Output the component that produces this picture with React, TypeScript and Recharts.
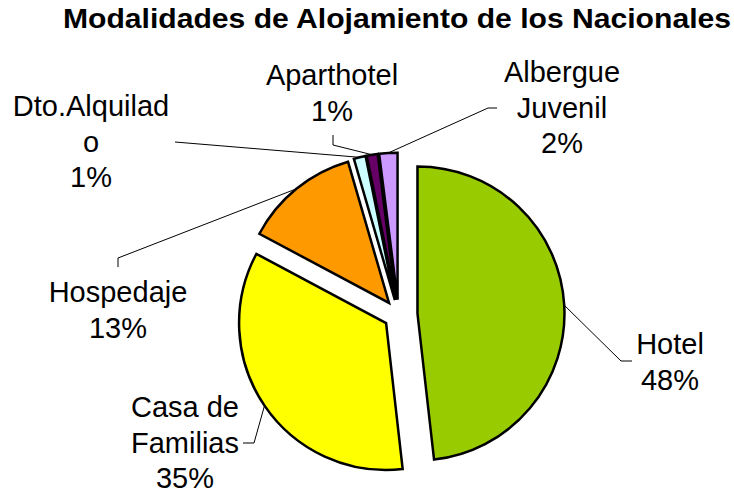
import { Cell, Pie, PieChart, Sector } from "recharts";

const categories = ["Hotel", "Casa de Familias", "Hospedaje", "Dto.Alquilado", "Aparthotel", "Albergue Juvenil"];
const shares = [48.2, 34.6, 12.7, 1.3, 1.2, 2.0];
const labelText = [["Hotel"], ["Casa de", "Familias"], ["Hospedaje"], ["Dto.Alquilad", "o"], ["Aparthotel"], ["Albergue", "Juvenil"]];

const data = categories.map((name, i) => ({ name, value: shares[i] }));

const COLORS = ["#99CC00", "#FFFF00", "#FF9900", "#CCFFFF", "#660066", "#CC99FF"];
const EXPLODE = [19, 15, 15, 15, 15, 15];
const FONT = "'Liberation Sans', Arial, sans-serif";
const LINE_H = 35.5;

// where each label block sits (centre x, first baseline) and the bend of its leader line
const LABEL_POS: { x: number; y: number; path: number[][] }[] = [
  { x: 670, y: 354, path: [[621, 361], [632, 361]] },
  { x: 185, y: 417, path: [[254, 443], [243, 443]] },
  { x: 118, y: 302, path: [[118, 258], [118, 267]] },
  { x: 91, y: 116, path: [[175, 142]] },
  { x: 332, y: 85, path: [[333, 145], [333, 135]] },
  { x: 562, y: 82, path: [[488, 108], [497, 108]] },
];

const RAD = Math.PI / 180;

function indexOfSlice(props: any) {
  if (typeof props.index === "number") return props.index;
  const n = props.name ?? props.payload?.name;
  return Math.max(0, categories.indexOf(n));
}

const explodedSector = (props: any) => {
  const i = indexOfSlice(props);
  const d = EXPLODE[i] ?? 0;
  const a = -props.midAngle * RAD;
  return <Sector {...props} cx={props.cx + d * Math.cos(a)} cy={props.cy + d * Math.sin(a)} />;
};

const renderLabel = (props: any) => {
  const { cx, cy, midAngle, outerRadius, percent, index } = props;
  const pos = LABEL_POS[index];
  const a = -midAngle * RAD;
  const r = outerRadius + EXPLODE[index];
  const sx = cx + r * Math.cos(a);
  const sy = cy + r * Math.sin(a);
  const pts = [[sx, sy], ...pos.path].map((p) => p.join(",")).join(" ");
  const lines = [...labelText[index], `${Math.round(percent * 100)}%`];
  return (
    <g key={`lbl-${index}`}>
      <polyline points={pts} fill="none" stroke="#000" strokeWidth={1} />
      <text x={pos.x} y={pos.y} textAnchor="middle" fontFamily={FONT} fontSize={29} fill="#000">
        {lines.map((t, k) => (
          <tspan key={k} x={pos.x} y={pos.y + k * LINE_H}>
            {t}
          </tspan>
        ))}
      </text>
    </g>
  );
};

export default function App() {
  return (
    <div style={{ position: "absolute", left: 0, top: 0, width: 734, height: 495, background: "#fff" }}>
      <svg width={734} height={40} style={{ position: "absolute", left: 0, top: 0 }}>
        <text
          x={397}
          y={28}
          textAnchor="middle"
          fontFamily={FONT}
          fontWeight="bold"
          fontSize={27}
          textLength={668}
          lengthAdjust="spacingAndGlyphs"
          fill="#000"
        >
          Modalidades de Alojamiento de los Nacionales
        </text>
      </svg>
      <PieChart width={734} height={495} margin={{ top: 0, right: 0, bottom: 0, left: 0 }}>
        <Pie
          data={data}
          dataKey="value"
          nameKey="name"
          cx={398.5}
          cy={314.6}
          outerRadius={147}
          startAngle={90}
          endAngle={-270}
          stroke="#000"
          strokeWidth={2.5}
          shape={explodedSector}
          label={renderLabel}
          labelLine={false}
          isAnimationActive={false}
        >
          {data.map((entry, i) => (
            <Cell key={entry.name} fill={COLORS[i]} />
          ))}
        </Pie>
      </PieChart>
    </div>
  );
}
